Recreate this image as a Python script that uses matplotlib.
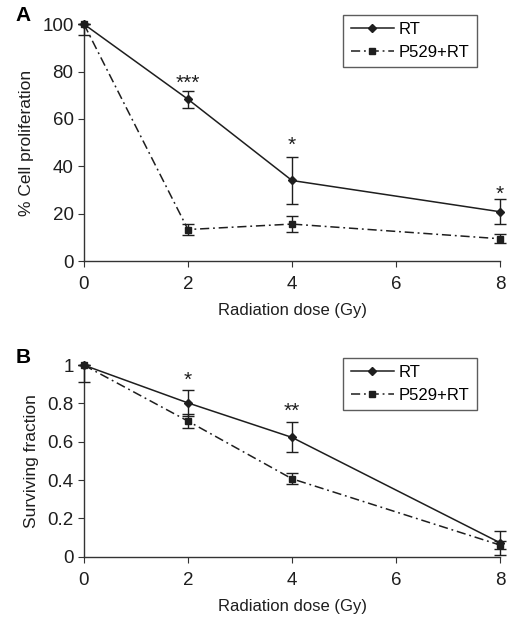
import matplotlib.pyplot as plt
from matplotlib.lines import Line2D
from matplotlib.ticker import FixedLocator, FormatStrFormatter

plt.rcParams['font.family'] = ['Liberation Sans', 'DejaVu Sans']

dose = [0, 2, 4, 8]

# panel A: % cell proliferation
prolif_rt = [100, 68.3, 34.0, 20.8]
prolif_rt_err = [0, 3.5, 10.0, 5.3]
prolif_p529 = [100, 13.3, 15.6, 9.4]
prolif_p529_err = [4.6, 2.4, 3.5, 2.0]
prolif_stars = ['', '***', '*', '*']
prolif_star_y = [0, 75, 49, 28]

# panel B: surviving fraction
surv_rt = [1.0, 0.803, 0.623, 0.073]
surv_rt_err = [0, 0.067, 0.078, 0.062]
surv_p529 = [1.0, 0.708, 0.407, 0.061]
surv_p529_err = [0.09, 0.037, 0.029, 0.02]
surv_stars = ['', '*', '**', '']
surv_star_y = [0, 0.92, 0.76, 0]

INK = '#1e1e1e'
DASHDOT = (0, (6, 2.5, 1.2, 2.5))


def panel(ax, rt, rt_err, p5, p5_err, stars, star_y, ylim, yticks, ylabel, fmt):
    ax.errorbar(dose, rt, yerr=rt_err, color=INK, lw=1.1, marker='D', ms=4,
                capsize=4, elinewidth=1, clip_on=False, zorder=3)
    ax.errorbar(dose, p5, yerr=[p5_err, [0] + p5_err[1:]], color=INK, lw=1.1,
                ls=DASHDOT, marker='s', ms=5, capsize=4, elinewidth=1,
                clip_on=False, zorder=3)
    for x, s, y in zip(dose, stars, star_y):
        if s:
            ax.text(x, y, s, ha='center', va='center', fontsize=15, color=INK)
    ax.set_xlim(0, 8)
    ax.set_ylim(*ylim)
    ax.xaxis.set_major_locator(FixedLocator([0, 2, 4, 6, 8]))
    ax.yaxis.set_major_locator(FixedLocator(yticks))
    ax.yaxis.set_major_formatter(fmt)
    ax.spines['top'].set_visible(False)
    ax.spines['right'].set_visible(False)
    for sp in ('left', 'bottom'):
        ax.spines[sp].set_color('#333333')
        ax.spines[sp].set_linewidth(1.0)
    ax.tick_params(labelsize=13.5, length=4, color='#333333', labelcolor=INK)
    ax.tick_params(axis='x', pad=7)
    ax.set_xlabel('Radiation dose (Gy)', fontsize=12, color=INK, labelpad=7)
    ax.set_ylabel(ylabel, fontsize=12.5, color=INK, labelpad=6)
    handles = [Line2D([], [], color=INK, lw=1.1, marker='D', ms=4),
               Line2D([], [], color=INK, lw=1.1, ls=DASHDOT, marker='s', ms=5)]
    leg = ax.legend(handles, ['RT', 'P529+RT'], loc='upper right',
                    bbox_to_anchor=(0.945, 1.04), borderaxespad=0, fontsize=12,
                    frameon=True, fancybox=False, edgecolor='#333333',
                    handlelength=2.6, handletextpad=0.3, borderpad=0.45,
                    labelspacing=0.45)
    leg.get_frame().set_linewidth(1.0)


fig = plt.figure(figsize=(5.15, 6.2), dpi=100)
ax1 = fig.add_axes([0.163, 0.579, 0.808, 0.382])
ax2 = fig.add_axes([0.163, 0.102, 0.808, 0.309])

panel(ax1, prolif_rt, prolif_rt_err, prolif_p529, prolif_p529_err,
      prolif_stars, prolif_star_y, (0, 100), [0, 20, 40, 60, 80, 100],
      '% Cell proliferation', FormatStrFormatter('%d'))
panel(ax2, surv_rt, surv_rt_err, surv_p529, surv_p529_err,
      surv_stars, surv_star_y, (0, 1), [0, 0.2, 0.4, 0.6, 0.8, 1.0],
      'Surviving fraction', FormatStrFormatter('%g'))

fig.text(0.03, 0.975, 'A', fontsize=15, fontweight='bold', ha='left', va='center')
fig.text(0.03, 0.424, 'B', fontsize=15, fontweight='bold', ha='left', va='center')

fig.savefig('out.png', dpi=100)
